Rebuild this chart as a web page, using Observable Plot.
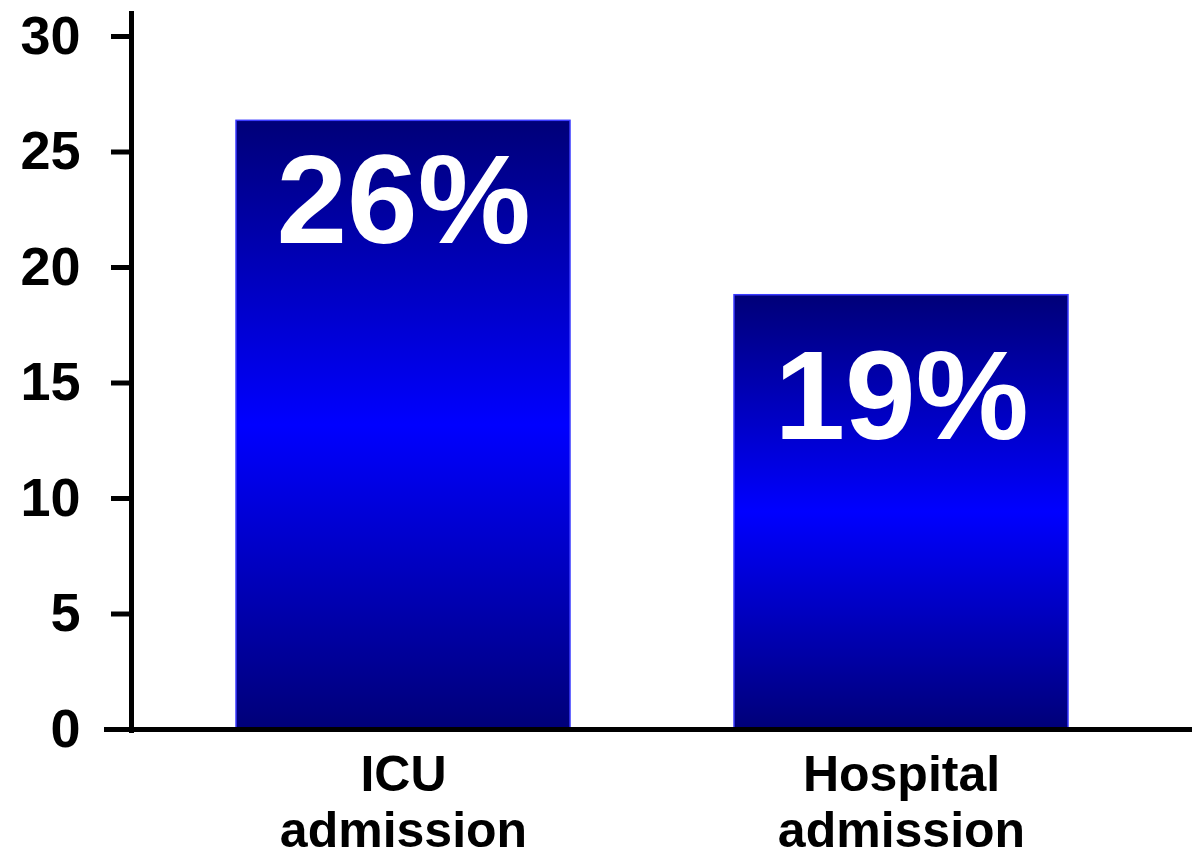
<!DOCTYPE html>
<html>
<head>
<meta charset="utf-8">
<script src="https://cdn.jsdelivr.net/npm/d3@7"></script>
<script src="https://cdn.jsdelivr.net/npm/@observablehq/plot@0.6"></script>
<style>
  html, body { margin: 0; padding: 0; background: #fff; }
  #chart svg { display: block; }
</style>
</head>
<body>
<div id="chart"></div>
<script>
const categories = ["ICU admission", "Hospital admission"];
const axisLabels = ["ICU\nadmission", "Hospital\nadmission"];
const values = [26.35, 18.8];
const valueLabels = ["26%", "19%"];
const yTicks = [0, 5, 10, 15, 20, 25, 30];

const data = categories.map((c, i) => ({category: c, value: values[i], label: valueLabels[i], axis: axisLabels[i]}));
const FONT = '"Comic Sans MS", "Liberation Sans", Arial, sans-serif';

const plot = Plot.plot({
  width: 1198,
  height: 857,
  marginLeft: 131,
  marginRight: 6,
  marginTop: 36,
  marginBottom: 128,
  style: {fontFamily: FONT, background: "#fff", color: "#000"},
  x: {domain: categories, paddingInner: 0.3287, paddingOuter: 0.2275, align: 0.458},
  y: {domain: [0, 30]},
  marks: [
    Plot.barY(data, {x: "category", y: "value", fill: "url(#barGrad)", stroke: "#3a3aff", strokeWidth: 1.5}),
    Plot.text(data.filter((d, i) => i === 0), {x: "category", y: "value", text: "label", fill: "#fff", fontSize: 127, fontWeight: "bold", dy: 82, lineAnchor: "middle"}),
    Plot.text(data.filter((d, i) => i === 1), {x: "category", y: "value", text: "label", fill: "#fff", fontSize: 127, fontWeight: "bold", dy: 103, lineAnchor: "middle"}),
    Plot.axisY({ticks: yTicks, tickSize: 20, tickPadding: 31, strokeWidth: 5, fontSize: 54, fontWeight: "bold", label: null}),
    Plot.axisX({tickSize: 0, tickPadding: 22, fontSize: 50, fontWeight: "bold", lineHeight: 1.12, label: null,
      tickFormat: (d) => axisLabels[categories.indexOf(d)]}),
    Plot.frame({anchor: "left", strokeWidth: 5, stroke: "#000", insetTop: -23, insetBottom: -1}),
    Plot.ruleY([0], {strokeWidth: 5, stroke: "#000", insetLeft: -27})
  ]
});

const defs = d3.create("svg:defs");
const grad = defs.append("linearGradient").attr("id", "barGrad").attr("x1", 0).attr("y1", 0).attr("x2", 0).attr("y2", 1);
grad.append("stop").attr("offset", "0%").attr("stop-color", "#000078");
grad.append("stop").attr("offset", "50%").attr("stop-color", "#0000ff");
grad.append("stop").attr("offset", "100%").attr("stop-color", "#000078");
plot.insertBefore(defs.node(), plot.firstChild);

document.getElementById("chart").appendChild(plot);
</script>
</body>
</html>
